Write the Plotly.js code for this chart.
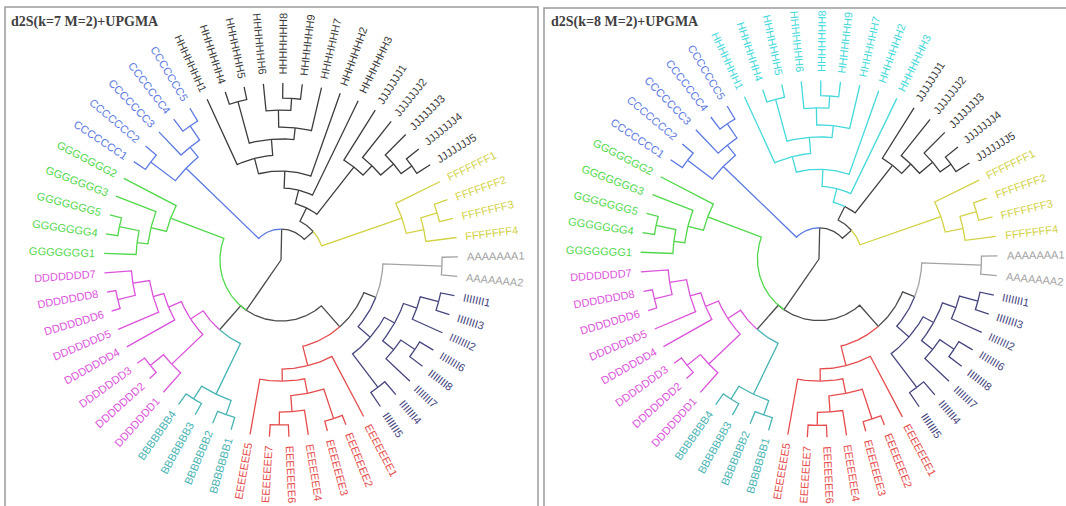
<!DOCTYPE html>
<html><head><meta charset="utf-8">
<script src="https://cdn.plot.ly/plotly-3.0.1.min.js"></script>
<style>html,body{margin:0;padding:0;background:#fff}#chart{width:1066px;height:506px}</style>
</head><body><div id="chart"></div>
<script>
// ---------------- DATA ----------------
const titles = ['d2S(k=7 M=2)+UPGMA', 'd2S(k=8 M=2)+UPGMA'];
// Clades in Newick form; the number after ':' is the node depth (fraction of the tip radius)
const cladeF = '((F4,(F3,F2):0.921):0.825,F1):0.723';
const cladeJ = '((((J5,J4):0.910,J3):0.836,J2):0.740,J1):0.667';
const cladeH = '(H3,(H2,(((H7,((H9,H8):0.915,H6):0.847):0.751,(H5,H4):0.927):0.684,H1):0.593):0.503):0.407';
const cladeC = '(((C5,C4):0.915,C3):0.819,(C2,C1):0.921):0.746';
const cladeG = '(G2,(G3,((G5,G4):0.932,G1):0.819):0.757):0.667';
const cladeD = '(((((D7,(D8,D6):0.949):0.847,D5):0.751,D4):0.689,((D3,D2):0.949,D1):0.853):0.610';
const cladeB = '((B4,B3):0.927,(B2,B1):0.927):0.842';
const cladeE = '((E5,(((E7,E6):0.932,E4):0.859,(E3,E2):0.944):0.768):0.684,E1):0.616';
const cladeI = '((I5,I4):0.904,((I7,(I8,I6):0.910):0.814,(I2,(I3,I1):0.921):0.814):0.734):0.667';
const cladeA = '(A2,A1):0.910';
const backbone = `(((${cladeF},(${cladeJ},${cladeH}):0.328):0.243,${cladeC}):0.175,((${cladeG},(${cladeD},${cladeB}):0.525):0.429,(${cladeE},(${cladeI},${cladeA}):0.576):0.503):0.345):0.096`;
const labelRepeat = 7;  // leaf label = group letter x7 + number

// ---------------- STYLE ----------------
const lineBase = '#4a4a4a';
const groupColorsLeft  = {A:'#a3a3a3', B:'#47b3b3', C:'#5b79e3', D:'#dc52dc', E:'#e64b4b', F:'#d2d244', G:'#50d84a', H:'#3c3c3c', I:'#45457e', J:'#3c3c3c'};
const groupColorsRight = Object.assign({}, groupColorsLeft, {H:'#45d9dc'});
const panels = [
  {cx:281, cy:260, R:177, colors:groupColorsLeft,  title:titles[0], tx:9,   rect:[5,7,538,530]},
  {cx:819, cy:259, R:178.5, colors:groupColorsRight, title:titles[1], tx:549, rect:[544,8,1090,530]}
];
const startAngle = 7.3; // degrees, first leaf
const labelGap = 1.05;
const labelFont = 'Liberation Sans';
const labelSize = 11;

// ---------------- TREE ----------------
function parseNewick(s){
  let i=0;
  function node(){
    const n={children:[]};
    if(s[i]==='('){ i++; n.children.push(node()); while(s[i]===','){ i++; n.children.push(node()); } i++; }
    let name=''; while(i<s.length && !',():'.includes(s[i])) name+=s[i++];
    n.name=name;
    if(s[i]===':'){ i++; let v=''; while(i<s.length && !',()'.includes(s[i])) v+=s[i++]; n.depth=parseFloat(v); }
    else n.depth = n.children.length ? 0 : 1;
    return n;
  }
  return node();
}
const tree = parseNewick(backbone);
const leaves=[];
(function collect(n){ if(!n.children.length) leaves.push(n); else n.children.forEach(collect); })(tree);
const step = 360/leaves.length;
leaves.forEach((l,k)=>{ l.angle = startAngle + k*step; });
(function setAngles(n){
  if(!n.children.length){ n.groups=new Set([n.name[0]]); return; }
  n.children.forEach(setAngles);
  n.angle=(n.children[0].angle + n.children[n.children.length-1].angle)/2;
  n.groups=new Set(); n.children.forEach(c=>c.groups.forEach(g=>n.groups.add(g)));
})(tree);

const canvas=document.createElement('canvas'); const ctx=canvas.getContext('2d');
ctx.font = labelSize+'px "'+labelFont+'"';

const traces=[]; const annotations=[]; const shapes=[];
const rad = d=>d*Math.PI/180;
panels.forEach(P=>{
  const byColor={};
  const px=(r,a)=>P.cx + P.R*r*Math.cos(rad(a));
  const py=(r,a)=>P.cy - P.R*r*Math.sin(rad(a));
  function colorOf(n){ return n.groups.size===1 ? P.colors[[...n.groups][0]] : lineBase; }
  function add(col, xs, ys){ if(!byColor[col]) byColor[col]={x:[],y:[]}; byColor[col].x.push(...xs,null); byColor[col].y.push(...ys,null); }
  (function walk(n){
    n.children.forEach(c=>{
      const xs=[], ys=[];
      const nSeg=Math.max(1, Math.ceil(Math.abs(c.angle-n.angle)));
      for(let k=0;k<=nSeg;k++){ const a=n.angle+(c.angle-n.angle)*k/nSeg; xs.push(px(n.depth,a)); ys.push(py(n.depth,a)); }
      xs.push(px(c.depth,c.angle)); ys.push(py(c.depth,c.angle));
      add(colorOf(c), xs, ys);
      walk(c);
    });
  })(tree);
  add(lineBase, [px(0,tree.angle), px(tree.depth,tree.angle)], [py(0,tree.angle), py(tree.depth,tree.angle)]);
  Object.keys(byColor).forEach(col=>{
    traces.push({type:'scatter', mode:'lines', x:byColor[col].x, y:byColor[col].y, line:{color:col, width:1.3}, hoverinfo:'skip', showlegend:false});
  });
  leaves.forEach(l=>{
    const text = l.name[0].repeat(labelRepeat)+l.name.slice(1);
    const w = ctx.measureText(text).width;
    const a = ((l.angle%360)+360)%360;
    const right = (a<=90 || a>=270);
    const r = labelGap + (w/2)/P.R;
    annotations.push({x:px(r,a), y:py(r,a), xref:'x', yref:'y', text:text, showarrow:false,
      textangle: right ? -a : 180-a, xanchor:'center', yanchor:'middle', borderpad:0,
      font:{family:labelFont, size:labelSize, color:P.colors[l.name[0]]}});
  });
  annotations.push({x:P.tx, y:22, xref:'x', yref:'y', text:'<b>'+P.title+'</b>', showarrow:false, xanchor:'left', yanchor:'middle',
    font:{family:'Liberation Serif', size:14, color:'#404040'}});
  shapes.push({type:'rect', xref:'x', yref:'y', x0:P.rect[0], y0:P.rect[1], x1:P.rect[2], y1:P.rect[3], line:{color:'#9a9a9a', width:1.5}, fillcolor:'rgba(0,0,0,0)'});
});

const layout={width:1066, height:506, margin:{l:0,r:0,t:0,b:0}, paper_bgcolor:'#fff', plot_bgcolor:'#fff',
  xaxis:{range:[0,1066], visible:false, fixedrange:true},
  yaxis:{range:[506,0], visible:false, fixedrange:true},
  annotations:annotations, shapes:shapes, showlegend:false};
Plotly.newPlot('chart', traces, layout, {staticPlot:true, displayModeBar:false});
</script></body></html>
